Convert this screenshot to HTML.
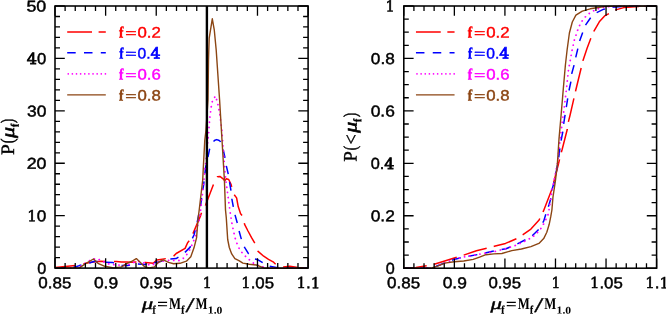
<!DOCTYPE html>
<html><head><meta charset="utf-8"><title>P(mu_f)</title>
<style>
html,body{margin:0;padding:0;background:#fff}
svg{display:block}
.c{fill:none;stroke-width:1.4;stroke-linejoin:round}
</style></head><body>
<svg width="666" height="314" viewBox="0 0 666 314">
<rect width="666" height="314" fill="#fff"/>

<defs><clipPath id="cpa"><rect x="55.0" y="6.0" width="253.10" height="262.90"/></clipPath><clipPath id="cpb"><rect x="403.8" y="5.2" width="252.80" height="263.80"/></clipPath></defs>
<g class="c" clip-path="url(#cpa)">
<path d="M55.0 267.5 L75.5 265.6 L87.0 263.1 L93.4 262.1 L101.0 261.2 L108.0 261.5 L116.4 261.5 L121.5 262.1 L126.6 262.1 L131.0 262.3 L138.0 261.8 L145.5 262.4 L153.2 263.3 L157.0 259.9 L166.0 258.6 L173.6 256.1 L176.2 253.5 L185.1 248.4 L187.6 242.7 L190.5 239.4 L200.3 216.4 L201.6 212.4 L205.6 205.0 L213.5 184.3 L217.5 176.7 L219.9 176.4 L223.1 178.8 L224.7 180.8 L226.3 178.8 L228.7 179.5 L231.0 184.3 L231.8 187.2 L234.2 194.7 L236.6 197.9 L238.2 206.6 L240.6 213.8 L243.0 216.5 L244.6 224.3 L248.0 231.0 L251.7 237.9 L255.4 244.2 L258.1 251.4 L263.7 256.2 L268.5 259.3 L273.1 261.8 L277.1 265.8 L283.4 266.9 L289.8 266.3 L297.8 267.6 L308.0 268.0" stroke="#ff0000" stroke-width="1.5" stroke-dasharray="22.6 8.2" stroke-dashoffset="2.18"/>
<path d="M55.0 268.0 L70.0 267.8 L73.0 267.5 L79.4 265.6 L87.0 263.7 L94.7 261.2 L103.6 262.1 L112.5 262.4 L120.2 265.4 L127.7 265.6 L135.3 263.7 L144.3 264.6 L151.9 263.3 L159.6 261.8 L167.2 259.2 L176.2 258.6 L183.2 254.1 L190.2 247.1 L191.5 240.1 L194.0 235.0 L196.8 224.3 L198.4 216.4 L200.8 204.2 L201.9 195.5 L203.7 184.3 L204.8 174.6 L205.6 167.4 L207.7 158.3 L209.6 149.1 L213.2 141.9 L214.8 140.3 L216.7 139.6 L218.6 140.2 L220.4 141.5 L223.1 149.1 L224.7 156.3 L226.3 165.8 L228.2 173.8 L229.5 181.9 L231.0 190.7 L231.8 198.6 L233.4 207.4 L235.0 214.8 L237.4 223.5 L239.0 230.7 L241.4 239.4 L244.6 247.4 L248.6 253.8 L254.8 259.0 L258.0 259.8 L262.7 262.6 L267.5 265.8 L276.3 267.4 L290.0 268.0 L308.0 268.1" stroke="#0000ff" stroke-width="1.5" stroke-dasharray="8.5 8.1" stroke-dashoffset="14.93"/>
<path d="M55.0 268.0 L78.0 267.6 L81.9 265.6 L86.4 262.4 L90.8 259.9 L96.6 258.4 L103.0 261.5 L110.0 264.4 L126.6 265.6 L136.6 261.2 L141.1 261.8 L150.6 265.4 L162.0 261.2 L170.4 260.3 L176.2 260.5 L180.6 260.5 L184.5 257.3 L187.6 253.5 L190.2 249.0 L192.1 244.5 L195.2 237.1 L197.6 225.9 L199.2 220.0 L200.3 213.2 L204.0 180.0 L204.8 170.0 L206.1 160.0 L208.8 131.4 L209.1 125.8 L209.6 120.2 L210.2 115.1 L210.8 109.9 L211.6 104.3 L212.7 99.9 L215.6 96.0 L217.0 101.1 L218.3 105.9 L219.1 110.7 L219.9 114.7 L221.8 130.0 L224.8 170.0 L225.8 180.0 L230.3 213.2 L231.8 222.7 L233.5 231.0 L235.5 239.5 L238.3 247.0 L242.9 253.9 L248.4 259.0 L254.8 264.2 L262.7 266.9 L267.5 267.9 L308.0 268.1" stroke="#ff00ff" stroke-width="1.8" stroke-linecap="round" stroke-dasharray="0.1 5.1"/>
<path d="M55.0 268.0 L79.4 267.9 L85.7 263.7 L93.4 259.0 L98.5 263.7 L104.9 266.3 L113.8 267.9 L121.5 266.9 L126.6 263.7 L131.5 261.5 L136.3 258.6 L140.4 262.4 L144.9 266.9 L149.4 267.9 L154.5 266.9 L158.3 262.4 L163.4 259.9 L168.5 262.4 L173.6 263.7 L180.0 263.3 L186.4 261.2 L190.8 256.7 L194.0 247.8 L196.6 237.6 L197.9 220.0 L199.2 210.0 L202.7 180.0 L203.2 170.0 L204.8 140.0 L206.0 130.0 L208.0 100.0 L208.5 60.0 L208.8 50.0 L209.2 38.2 L212.3 18.8 L214.3 30.2 L216.2 50.0 L219.6 100.0 L222.0 140.0 L224.4 180.0 L225.5 210.0 L226.3 218.0 L227.7 239.5 L229.3 247.5 L231.7 253.9 L234.9 258.6 L238.9 260.6 L242.9 263.1 L249.2 264.2 L256.4 265.0 L261.2 266.9 L264.3 268.2 L308.0 268.2" stroke="#8b4513"/>
</g>
<g class="c" clip-path="url(#cpb)">
<path d="M404.0 267.9 L415.9 267.4 L427.1 265.8 L434.2 264.2 L457.3 257.1 L463.7 255.1 L476.4 250.7 L486.7 248.3 L494.3 246.3 L505.5 243.4 L516.6 238.6 L523.0 234.7 L530.9 229.1 L538.9 220.3 L543.4 211.2 L551.4 190.5 L554.1 180.9 L558.2 165.0 L560.6 154.8 L562.2 149.2 L567.3 129.3 L568.5 121.4 L570.1 115.0 L574.1 97.6 L575.7 90.5 L581.3 67.4 L583.0 60.4 L587.0 48.4 L590.9 38.1 L594.1 30.9 L599.3 21.8 L604.6 15.9 L609.3 13.5 L615.7 9.9 L623.7 7.6 L634.8 6.7 L645.0 6.2 L656.0 6.0" stroke="#ff0000" stroke-width="1.5" stroke-dasharray="24.0 7.3" stroke-dashoffset="1.23"/>
<path d="M404.0 268.2 L431.8 267.9 L454.1 259.4 L463.7 257.1 L479.6 254.2 L495.5 250.7 L506.0 248.8 L515.0 245.0 L526.2 239.4 L532.5 235.5 L538.9 229.1 L543.7 221.1 L545.8 214.3 L549.0 204.8 L551.1 197.6 L552.2 188.9 L554.6 180.9 L558.2 161.2 L559.8 149.2 L561.1 140.5 L563.0 130.9 L563.8 123.0 L565.4 113.0 L567.7 98.4 L569.0 90.5 L570.9 81.7 L571.7 73.8 L574.1 65.0 L575.8 57.2 L577.9 48.4 L579.8 40.5 L582.7 32.5 L585.4 25.3 L590.6 17.8 L596.6 12.7 L603.8 9.2 L612.5 7.2 L618.9 6.7 L635.0 6.1 L656.0 6.0" stroke="#0000ff" stroke-width="1.5" stroke-dasharray="9.0 7.9" stroke-dashoffset="1.23"/>
<path d="M404.0 268.2 L431.8 267.9 L454.1 259.4 L463.7 257.1 L479.6 254.2 L486.4 253.0 L494.3 251.7 L503.9 249.0 L515.0 245.6 L526.6 240.4 L533.2 236.6 L539.8 230.3 L544.6 222.3 L548.3 214.0 L549.8 205.0 L552.0 190.0 L554.5 178.0 L557.5 163.0 L559.5 145.0 L560.6 135.7 L562.5 120.0 L563.6 112.7 L566.2 91.3 L568.5 69.8 L569.4 65.0 L571.8 51.6 L574.2 40.5 L577.4 30.9 L580.6 23.0 L584.7 17.5 L591.0 11.9 L598.2 8.8 L606.2 6.7 L620.0 6.1 L656.0 6.0" stroke="#ff00ff" stroke-width="1.8" stroke-linecap="round" stroke-dasharray="0.1 5.1"/>
<path d="M404.0 268.2 L431.8 267.9 L438.2 265.8 L444.6 263.1 L454.1 261.8 L463.7 261.0 L473.2 259.4 L479.6 257.1 L485.9 254.7 L493.9 253.9 L501.9 253.5 L511.8 250.6 L521.4 249.0 L530.9 246.6 L538.9 243.4 L543.7 238.6 L546.8 232.3 L549.2 224.3 L550.8 216.4 L551.9 210.0 L553.0 196.8 L555.4 180.9 L557.3 165.0 L559.0 138.9 L561.1 115.0 L563.3 88.9 L565.4 65.0 L567.1 50.0 L569.4 33.0 L572.3 22.0 L575.9 15.1 L582.3 11.1 L590.2 8.8 L599.8 7.2 L606.2 6.4 L620.0 6.1 L656.0 6.0" stroke="#8b4513"/>
</g>
<path d="M206.9 6.0V268.1" stroke="#000" stroke-width="2.4" fill="none"/>
<rect x="55.0" y="6.0" width="253.10" height="262.10" fill="none" stroke="#000" stroke-width="1.55"/>
<path d="M55.00 268.10v-9.8M55.00 6.00v9.8M65.12 268.10v-5.0M65.12 6.00v5.0M75.25 268.10v-5.0M75.25 6.00v5.0M85.37 268.10v-5.0M85.37 6.00v5.0M95.50 268.10v-5.0M95.50 6.00v5.0M105.62 268.10v-9.8M105.62 6.00v9.8M115.74 268.10v-5.0M115.74 6.00v5.0M125.87 268.10v-5.0M125.87 6.00v5.0M135.99 268.10v-5.0M135.99 6.00v5.0M146.12 268.10v-5.0M146.12 6.00v5.0M156.24 268.10v-9.8M156.24 6.00v9.8M166.36 268.10v-5.0M166.36 6.00v5.0M176.49 268.10v-5.0M176.49 6.00v5.0M186.61 268.10v-5.0M186.61 6.00v5.0M196.74 268.10v-5.0M196.74 6.00v5.0M206.86 268.10v-9.8M206.86 6.00v9.8M216.98 268.10v-5.0M216.98 6.00v5.0M227.11 268.10v-5.0M227.11 6.00v5.0M237.23 268.10v-5.0M237.23 6.00v5.0M247.36 268.10v-5.0M247.36 6.00v5.0M257.48 268.10v-9.8M257.48 6.00v9.8M267.60 268.10v-5.0M267.60 6.00v5.0M277.73 268.10v-5.0M277.73 6.00v5.0M287.85 268.10v-5.0M287.85 6.00v5.0M297.98 268.10v-5.0M297.98 6.00v5.0M308.10 268.10v-9.8M308.10 6.00v9.8M55.00 268.10h9.8M308.10 268.10h-9.8M55.00 257.62h5.0M308.10 257.62h-5.0M55.00 247.13h5.0M308.10 247.13h-5.0M55.00 236.65h5.0M308.10 236.65h-5.0M55.00 226.16h5.0M308.10 226.16h-5.0M55.00 215.68h9.8M308.10 215.68h-9.8M55.00 205.20h5.0M308.10 205.20h-5.0M55.00 194.71h5.0M308.10 194.71h-5.0M55.00 184.23h5.0M308.10 184.23h-5.0M55.00 173.74h5.0M308.10 173.74h-5.0M55.00 163.26h9.8M308.10 163.26h-9.8M55.00 152.78h5.0M308.10 152.78h-5.0M55.00 142.29h5.0M308.10 142.29h-5.0M55.00 131.81h5.0M308.10 131.81h-5.0M55.00 121.32h5.0M308.10 121.32h-5.0M55.00 110.84h9.8M308.10 110.84h-9.8M55.00 100.36h5.0M308.10 100.36h-5.0M55.00 89.87h5.0M308.10 89.87h-5.0M55.00 79.39h5.0M308.10 79.39h-5.0M55.00 68.90h5.0M308.10 68.90h-5.0M55.00 58.42h9.8M308.10 58.42h-9.8M55.00 47.94h5.0M308.10 47.94h-5.0M55.00 37.45h5.0M308.10 37.45h-5.0M55.00 26.97h5.0M308.10 26.97h-5.0M55.00 16.48h5.0M308.10 16.48h-5.0M55.00 6.00h9.8M308.10 6.00h-9.8" stroke="#000" stroke-width="1.3" fill="none"/>
<rect x="403.8" y="6.0" width="252.80" height="262.20" fill="none" stroke="#000" stroke-width="1.55"/>
<path d="M403.80 268.20v-9.8M403.80 6.00v9.8M413.91 268.20v-5.0M413.91 6.00v5.0M424.02 268.20v-5.0M424.02 6.00v5.0M434.14 268.20v-5.0M434.14 6.00v5.0M444.25 268.20v-5.0M444.25 6.00v5.0M454.36 268.20v-9.8M454.36 6.00v9.8M464.47 268.20v-5.0M464.47 6.00v5.0M474.58 268.20v-5.0M474.58 6.00v5.0M484.70 268.20v-5.0M484.70 6.00v5.0M494.81 268.20v-5.0M494.81 6.00v5.0M504.92 268.20v-9.8M504.92 6.00v9.8M515.03 268.20v-5.0M515.03 6.00v5.0M525.14 268.20v-5.0M525.14 6.00v5.0M535.26 268.20v-5.0M535.26 6.00v5.0M545.37 268.20v-5.0M545.37 6.00v5.0M555.48 268.20v-9.8M555.48 6.00v9.8M565.59 268.20v-5.0M565.59 6.00v5.0M575.70 268.20v-5.0M575.70 6.00v5.0M585.82 268.20v-5.0M585.82 6.00v5.0M595.93 268.20v-5.0M595.93 6.00v5.0M606.04 268.20v-9.8M606.04 6.00v9.8M616.15 268.20v-5.0M616.15 6.00v5.0M626.26 268.20v-5.0M626.26 6.00v5.0M636.38 268.20v-5.0M636.38 6.00v5.0M646.49 268.20v-5.0M646.49 6.00v5.0M656.60 268.20v-9.8M656.60 6.00v9.8M403.80 268.20h9.8M656.60 268.20h-9.8M403.80 255.09h5.0M656.60 255.09h-5.0M403.80 241.98h5.0M656.60 241.98h-5.0M403.80 228.87h5.0M656.60 228.87h-5.0M403.80 215.76h9.8M656.60 215.76h-9.8M403.80 202.65h5.0M656.60 202.65h-5.0M403.80 189.54h5.0M656.60 189.54h-5.0M403.80 176.43h5.0M656.60 176.43h-5.0M403.80 163.32h9.8M656.60 163.32h-9.8M403.80 150.21h5.0M656.60 150.21h-5.0M403.80 137.10h5.0M656.60 137.10h-5.0M403.80 123.99h5.0M656.60 123.99h-5.0M403.80 110.88h9.8M656.60 110.88h-9.8M403.80 97.77h5.0M656.60 97.77h-5.0M403.80 84.66h5.0M656.60 84.66h-5.0M403.80 71.55h5.0M656.60 71.55h-5.0M403.80 58.44h9.8M656.60 58.44h-9.8M403.80 45.33h5.0M656.60 45.33h-5.0M403.80 32.22h5.0M656.60 32.22h-5.0M403.80 19.11h5.0M656.60 19.11h-5.0M403.80 6.00h9.8M656.60 6.00h-9.8" stroke="#000" stroke-width="1.3" fill="none"/>
<text transform="translate(38.33 288.10) rotate(0.2) scale(1.080 1)" fill="#000" style="font-family:'Liberation Sans',sans-serif;font-size:15.7px;stroke-width:.45px;stroke:#000">0.85</text>
<text transform="translate(93.92 288.10) rotate(0.2) scale(1.105 1)" fill="#000" style="font-family:'Liberation Sans',sans-serif;font-size:15.7px;stroke-width:.45px;stroke:#000">0.9</text>
<text transform="translate(139.63 288.10) rotate(0.2) scale(1.067 1)" fill="#000" style="font-family:'Liberation Sans',sans-serif;font-size:15.7px;stroke-width:.45px;stroke:#000">0.95</text>
<text transform="translate(202.77 288.10) rotate(0.2) scale(1.018 1)" fill="#000" style="font-family:'Liberation Sans',sans-serif;font-size:15.7px;stroke-width:.45px;stroke:#000"><tspan style="font-family:'DejaVu Serif Condensed','DejaVu Serif',serif;font-size:15.3px;stroke-width:.5px">1</tspan></text>
<text transform="translate(241.29 288.10) rotate(0.2) scale(1.071 1)" fill="#000" style="font-family:'Liberation Sans',sans-serif;font-size:15.7px;stroke-width:.45px;stroke:#000"><tspan style="font-family:'DejaVu Serif Condensed','DejaVu Serif',serif;font-size:15.3px;stroke-width:.5px">1</tspan>.05</text>
<text transform="translate(296.46 288.10) rotate(0.2) scale(1.093 1)" fill="#000" style="font-family:'Liberation Sans',sans-serif;font-size:15.7px;stroke-width:.45px;stroke:#000"><tspan style="font-family:'DejaVu Serif Condensed','DejaVu Serif',serif;font-size:15.3px;stroke-width:.5px">1</tspan>.<tspan style="font-family:'DejaVu Serif Condensed','DejaVu Serif',serif;font-size:15.3px;stroke-width:.5px">1</tspan></text>
<text transform="translate(387.08 288.10) rotate(0.2) scale(1.080 1)" fill="#000" style="font-family:'Liberation Sans',sans-serif;font-size:15.7px;stroke-width:.45px;stroke:#000">0.85</text>
<text transform="translate(442.67 288.10) rotate(0.2) scale(1.105 1)" fill="#000" style="font-family:'Liberation Sans',sans-serif;font-size:15.7px;stroke-width:.45px;stroke:#000">0.9</text>
<text transform="translate(488.38 288.10) rotate(0.2) scale(1.067 1)" fill="#000" style="font-family:'Liberation Sans',sans-serif;font-size:15.7px;stroke-width:.45px;stroke:#000">0.95</text>
<text transform="translate(551.52 288.10) rotate(0.2) scale(1.018 1)" fill="#000" style="font-family:'Liberation Sans',sans-serif;font-size:15.7px;stroke-width:.45px;stroke:#000"><tspan style="font-family:'DejaVu Serif Condensed','DejaVu Serif',serif;font-size:15.3px;stroke-width:.5px">1</tspan></text>
<text transform="translate(590.04 288.10) rotate(0.2) scale(1.071 1)" fill="#000" style="font-family:'Liberation Sans',sans-serif;font-size:15.7px;stroke-width:.45px;stroke:#000"><tspan style="font-family:'DejaVu Serif Condensed','DejaVu Serif',serif;font-size:15.3px;stroke-width:.5px">1</tspan>.05</text>
<text transform="translate(645.21 288.10) rotate(0.2) scale(1.093 1)" fill="#000" style="font-family:'Liberation Sans',sans-serif;font-size:15.7px;stroke-width:.45px;stroke:#000"><tspan style="font-family:'DejaVu Serif Condensed','DejaVu Serif',serif;font-size:15.3px;stroke-width:.5px">1</tspan>.<tspan style="font-family:'DejaVu Serif Condensed','DejaVu Serif',serif;font-size:15.3px;stroke-width:.5px">1</tspan></text>
<text transform="translate(37.14 273.65) rotate(0.2) scale(1.025 1)" fill="#000" style="font-family:'Liberation Sans',sans-serif;font-size:15.7px;stroke-width:.45px;stroke:#000">0</text>
<text transform="translate(27.26 221.23) rotate(0.2) scale(1.094 1)" fill="#000" style="font-family:'Liberation Sans',sans-serif;font-size:15.7px;stroke-width:.45px;stroke:#000"><tspan style="font-family:'DejaVu Serif Condensed','DejaVu Serif',serif;font-size:15.3px;stroke-width:.5px">1</tspan>0</text>
<text transform="translate(26.63 168.81) rotate(0.2) scale(1.130 1)" fill="#000" style="font-family:'Liberation Sans',sans-serif;font-size:15.7px;stroke-width:.45px;stroke:#000">20</text>
<text transform="translate(27.02 116.39) rotate(0.2) scale(1.107 1)" fill="#000" style="font-family:'Liberation Sans',sans-serif;font-size:15.7px;stroke-width:.45px;stroke:#000">30</text>
<text transform="translate(26.80 63.97) rotate(0.2) scale(1.058 1)" fill="#000" style="font-family:'Liberation Sans',sans-serif;font-size:15.7px;stroke-width:.45px;stroke:#000"><tspan style="font-family:'DejaVu Serif',serif;font-size:15.3px;stroke-width:.75px">4</tspan>0</text>
<text transform="translate(26.43 11.55) rotate(0.2) scale(1.133 1)" fill="#000" style="font-family:'Liberation Sans',sans-serif;font-size:15.7px;stroke-width:.45px;stroke:#000">50</text>
<text transform="translate(385.74 273.75) rotate(0.2) scale(1.025 1)" fill="#000" style="font-family:'Liberation Sans',sans-serif;font-size:15.7px;stroke-width:.45px;stroke:#000">0</text>
<text transform="translate(370.72 221.31) rotate(0.2) scale(1.105 1)" fill="#000" style="font-family:'Liberation Sans',sans-serif;font-size:15.7px;stroke-width:.45px;stroke:#000">0.2</text>
<text transform="translate(370.64 168.87) rotate(0.2) scale(1.034 1)" fill="#000" style="font-family:'Liberation Sans',sans-serif;font-size:15.7px;stroke-width:.45px;stroke:#000">0.<tspan style="font-family:'DejaVu Serif',serif;font-size:15.3px;stroke-width:.75px">4</tspan></text>
<text transform="translate(370.72 116.43) rotate(0.2) scale(1.105 1)" fill="#000" style="font-family:'Liberation Sans',sans-serif;font-size:15.7px;stroke-width:.45px;stroke:#000">0.6</text>
<text transform="translate(370.83 63.99) rotate(0.2) scale(1.095 1)" fill="#000" style="font-family:'Liberation Sans',sans-serif;font-size:15.7px;stroke-width:.45px;stroke:#000">0.8</text>
<text transform="translate(385.62 11.55) rotate(0.2) scale(1.055 1)" fill="#000" style="font-family:'Liberation Sans',sans-serif;font-size:15.7px;stroke-width:.45px;stroke:#000"><tspan style="font-family:'DejaVu Serif Condensed','DejaVu Serif',serif;font-size:15.3px;stroke-width:.5px">1</tspan></text>
<text transform="translate(141.65 308.90) rotate(0.2) scale(1.382 1)" fill="#000" style="font-family:'Liberation Serif',serif;stroke:#000;font-style:italic;font-size:16.5px;stroke-width:.4px">μ</text>
<text transform="translate(152.60 313.50) rotate(0.2) scale(0.800 1)" fill="#000" style="font-family:'Liberation Serif',serif;font-weight:bold;font-size:11.5px;stroke:#000;stroke-width:.3px">f</text>
<text transform="translate(156.91 309.60) rotate(0.2) scale(1.187 1)" fill="#000" style="font-family:'Liberation Serif',serif;font-weight:bold;font-size:16.5px">=</text>
<text transform="translate(169.11 308.90) rotate(0.2) scale(0.773 1)" fill="#000" style="font-family:'Liberation Serif',serif;font-weight:bold;font-size:16.5px">M</text>
<text transform="translate(181.20 313.50) rotate(0.2) scale(0.800 1)" fill="#000" style="font-family:'Liberation Serif',serif;font-weight:bold;font-size:11.5px;stroke:#000;stroke-width:.3px">f</text>
<text transform="translate(185.49 312.00) rotate(0.2) scale(1.568 1)" fill="#000" style="font-family:'Liberation Serif',serif;stroke:#000;stroke-width:.3px;font-size:21px">/</text>
<text transform="translate(195.51 308.90) rotate(0.2) scale(0.773 1)" fill="#000" style="font-family:'Liberation Serif',serif;font-weight:bold;font-size:16.5px">M</text>
<text transform="translate(207.87 313.60) rotate(0.2) scale(1.108 1)" fill="#000" style="font-family:'Liberation Serif',serif;font-weight:bold;font-size:10.5px">1.0</text>
<text transform="translate(490.40 308.90) rotate(0.2) scale(1.382 1)" fill="#000" style="font-family:'Liberation Serif',serif;stroke:#000;font-style:italic;font-size:16.5px;stroke-width:.4px">μ</text>
<text transform="translate(501.35 313.50) rotate(0.2) scale(0.800 1)" fill="#000" style="font-family:'Liberation Serif',serif;font-weight:bold;font-size:11.5px;stroke:#000;stroke-width:.3px">f</text>
<text transform="translate(505.66 309.60) rotate(0.2) scale(1.187 1)" fill="#000" style="font-family:'Liberation Serif',serif;font-weight:bold;font-size:16.5px">=</text>
<text transform="translate(517.86 308.90) rotate(0.2) scale(0.773 1)" fill="#000" style="font-family:'Liberation Serif',serif;font-weight:bold;font-size:16.5px">M</text>
<text transform="translate(529.95 313.50) rotate(0.2) scale(0.800 1)" fill="#000" style="font-family:'Liberation Serif',serif;font-weight:bold;font-size:11.5px;stroke:#000;stroke-width:.3px">f</text>
<text transform="translate(534.24 312.00) rotate(0.2) scale(1.568 1)" fill="#000" style="font-family:'Liberation Serif',serif;stroke:#000;stroke-width:.3px;font-size:21px">/</text>
<text transform="translate(544.26 308.90) rotate(0.2) scale(0.773 1)" fill="#000" style="font-family:'Liberation Serif',serif;font-weight:bold;font-size:16.5px">M</text>
<text transform="translate(556.62 313.60) rotate(0.2) scale(1.108 1)" fill="#000" style="font-family:'Liberation Serif',serif;font-weight:bold;font-size:10.5px">1.0</text>
<text transform="translate(119.00 37.50) rotate(0.2) scale(0.855 1)" fill="#ff0000" style="font-family:'Liberation Serif',serif;font-weight:bold;font-size:15.6px;stroke-width:.45px;stroke:#ff0000">f</text>
<text transform="translate(125.19 36.90) rotate(0.2) scale(1.617 1)" fill="#ff0000" style="font-family:'Liberation Sans',sans-serif;font-size:12px;stroke-width:.35px;stroke:#ff0000">=</text>
<text transform="translate(137.54 37.50) rotate(0.2) scale(1.110 1)" fill="#ff0000" style="font-family:'Liberation Sans',sans-serif;font-size:15.1px;stroke-width:.4px;stroke:#ff0000">0.2</text>
<text transform="translate(119.20 58.40) rotate(0.2) scale(0.817 1)" fill="#0000ff" style="font-family:'Liberation Serif',serif;font-weight:bold;font-size:15.6px;stroke-width:.45px;stroke:#0000ff">f</text>
<text transform="translate(125.19 57.80) rotate(0.2) scale(1.617 1)" fill="#0000ff" style="font-family:'Liberation Sans',sans-serif;font-size:12px;stroke-width:.35px;stroke:#0000ff">=</text>
<text transform="translate(137.58 58.40) rotate(0.2) scale(1.033 1)" fill="#0000ff" style="font-family:'Liberation Sans',sans-serif;font-size:15.1px;stroke-width:.4px;stroke:#0000ff">0.<tspan style="font-family:'DejaVu Serif',serif;font-size:15.3px;stroke-width:.75px">4</tspan></text>
<text transform="translate(119.00 79.50) rotate(0.2) scale(0.855 1)" fill="#ff00ff" style="font-family:'Liberation Serif',serif;font-weight:bold;font-size:15.6px;stroke-width:.45px;stroke:#ff00ff">f</text>
<text transform="translate(125.19 78.90) rotate(0.2) scale(1.617 1)" fill="#ff00ff" style="font-family:'Liberation Sans',sans-serif;font-size:12px;stroke-width:.35px;stroke:#ff00ff">=</text>
<text transform="translate(137.54 79.50) rotate(0.2) scale(1.110 1)" fill="#ff00ff" style="font-family:'Liberation Sans',sans-serif;font-size:15.1px;stroke-width:.4px;stroke:#ff00ff">0.6</text>
<text transform="translate(119.00 100.50) rotate(0.2) scale(0.855 1)" fill="#8b4513" style="font-family:'Liberation Serif',serif;font-weight:bold;font-size:15.6px;stroke-width:.45px;stroke:#8b4513">f</text>
<text transform="translate(125.19 99.90) rotate(0.2) scale(1.617 1)" fill="#8b4513" style="font-family:'Liberation Sans',sans-serif;font-size:12px;stroke-width:.35px;stroke:#8b4513">=</text>
<text transform="translate(137.54 100.50) rotate(0.2) scale(1.110 1)" fill="#8b4513" style="font-family:'Liberation Sans',sans-serif;font-size:15.1px;stroke-width:.4px;stroke:#8b4513">0.8</text>
<text transform="translate(467.75 37.50) rotate(0.2) scale(0.855 1)" fill="#ff0000" style="font-family:'Liberation Serif',serif;font-weight:bold;font-size:15.6px;stroke-width:.45px;stroke:#ff0000">f</text>
<text transform="translate(473.94 36.90) rotate(0.2) scale(1.617 1)" fill="#ff0000" style="font-family:'Liberation Sans',sans-serif;font-size:12px;stroke-width:.35px;stroke:#ff0000">=</text>
<text transform="translate(486.30 37.50) rotate(0.2) scale(1.110 1)" fill="#ff0000" style="font-family:'Liberation Sans',sans-serif;font-size:15.1px;stroke-width:.4px;stroke:#ff0000">0.2</text>
<text transform="translate(467.95 58.40) rotate(0.2) scale(0.817 1)" fill="#0000ff" style="font-family:'Liberation Serif',serif;font-weight:bold;font-size:15.6px;stroke-width:.45px;stroke:#0000ff">f</text>
<text transform="translate(473.94 57.80) rotate(0.2) scale(1.617 1)" fill="#0000ff" style="font-family:'Liberation Sans',sans-serif;font-size:12px;stroke-width:.35px;stroke:#0000ff">=</text>
<text transform="translate(486.33 58.40) rotate(0.2) scale(1.033 1)" fill="#0000ff" style="font-family:'Liberation Sans',sans-serif;font-size:15.1px;stroke-width:.4px;stroke:#0000ff">0.<tspan style="font-family:'DejaVu Serif',serif;font-size:15.3px;stroke-width:.75px">4</tspan></text>
<text transform="translate(467.75 79.50) rotate(0.2) scale(0.855 1)" fill="#ff00ff" style="font-family:'Liberation Serif',serif;font-weight:bold;font-size:15.6px;stroke-width:.45px;stroke:#ff00ff">f</text>
<text transform="translate(473.94 78.90) rotate(0.2) scale(1.617 1)" fill="#ff00ff" style="font-family:'Liberation Sans',sans-serif;font-size:12px;stroke-width:.35px;stroke:#ff00ff">=</text>
<text transform="translate(486.30 79.50) rotate(0.2) scale(1.110 1)" fill="#ff00ff" style="font-family:'Liberation Sans',sans-serif;font-size:15.1px;stroke-width:.4px;stroke:#ff00ff">0.6</text>
<text transform="translate(467.75 100.50) rotate(0.2) scale(0.855 1)" fill="#8b4513" style="font-family:'Liberation Serif',serif;font-weight:bold;font-size:15.6px;stroke-width:.45px;stroke:#8b4513">f</text>
<text transform="translate(473.94 99.90) rotate(0.2) scale(1.617 1)" fill="#8b4513" style="font-family:'Liberation Sans',sans-serif;font-size:12px;stroke-width:.35px;stroke:#8b4513">=</text>
<text transform="translate(486.30 100.50) rotate(0.2) scale(1.110 1)" fill="#8b4513" style="font-family:'Liberation Sans',sans-serif;font-size:15.1px;stroke-width:.4px;stroke:#8b4513">0.8</text>
<g transform="translate(14.1 154.7) rotate(-90)"><text transform="translate(-0.25 0.00) rotate(0.2) scale(1.015 1)" fill="#000" style="font-family:'Liberation Serif',serif;stroke:#000;stroke-width:.4px;font-size:19px">P</text><text transform="translate(11.33 -0.60) rotate(0.2) scale(0.745 1)" fill="#000" style="font-family:'Liberation Serif',serif;stroke:#000;stroke-width:.6px;font-size:18.5px">(</text><text transform="translate(16.79 0.00) rotate(0.2) scale(1.189 1)" fill="#000" style="font-family:'Liberation Serif',serif;stroke:#000;font-style:italic;font-size:18.5px;stroke-width:.6px">μ</text><text transform="translate(27.80 4.60) rotate(0.2) scale(0.850 1)" fill="#000" style="font-family:'Liberation Serif',serif;font-weight:bold;font-size:11.5px;stroke:#000;stroke-width:.3px">f</text><text transform="translate(31.73 -0.60) rotate(0.2) scale(0.673 1)" fill="#000" style="font-family:'Liberation Serif',serif;stroke:#000;stroke-width:.6px;font-size:18.5px">)</text></g>
<g transform="translate(356.6 161.5) rotate(-90)"><text transform="translate(-0.25 0.00) rotate(0.2) scale(0.995 1)" fill="#000" style="font-family:'Liberation Serif',serif;stroke:#000;stroke-width:.4px;font-size:19px">P</text><text transform="translate(11.36 -0.40) rotate(0.2) scale(0.673 1)" fill="#000" style="font-family:'Liberation Serif',serif;stroke:#000;stroke-width:.6px;font-size:18.5px">(</text><text transform="translate(17.09 0.60) rotate(0.2) scale(0.941 1)" fill="#000" style="font-family:'Liberation Serif',serif;stroke:#000;stroke-width:.4px;font-size:19px">&lt;</text><text transform="translate(28.69 0.00) rotate(0.2) scale(1.189 1)" fill="#000" style="font-family:'Liberation Serif',serif;stroke:#000;font-style:italic;font-size:18.5px;stroke-width:.6px">μ</text><text transform="translate(39.60 4.60) rotate(0.2) scale(0.850 1)" fill="#000" style="font-family:'Liberation Serif',serif;font-weight:bold;font-size:11.5px;stroke:#000;stroke-width:.3px">f</text><text transform="translate(44.43 -0.40) rotate(0.2) scale(0.673 1)" fill="#000" style="font-family:'Liberation Serif',serif;stroke:#000;stroke-width:.6px;font-size:18.5px">)</text></g>
<path d="M67.20 31.9H105.80" stroke="#ff0000" stroke-width="1.5" stroke-dasharray="24.8 6.6" fill="none"/>
<path d="M67.20 52.8H105.80" stroke="#0000ff" stroke-width="1.5" stroke-dasharray="8.5 8.3" fill="none"/>
<path d="M68.20 73.9H105.80" stroke="#ff00ff" stroke-width="1.6" stroke-linecap="round" stroke-dasharray="0.1 4.03" fill="none"/>
<path d="M67.20 94.9H105.80" stroke="#8b4513" stroke-width="1.4" fill="none"/>
<path d="M415.95 31.9H454.55" stroke="#ff0000" stroke-width="1.5" stroke-dasharray="24.8 6.6" fill="none"/>
<path d="M415.95 52.8H454.55" stroke="#0000ff" stroke-width="1.5" stroke-dasharray="8.5 8.3" fill="none"/>
<path d="M416.95 73.9H454.55" stroke="#ff00ff" stroke-width="1.6" stroke-linecap="round" stroke-dasharray="0.1 4.03" fill="none"/>
<path d="M415.95 94.9H454.55" stroke="#8b4513" stroke-width="1.4" fill="none"/>
</svg></body></html>
